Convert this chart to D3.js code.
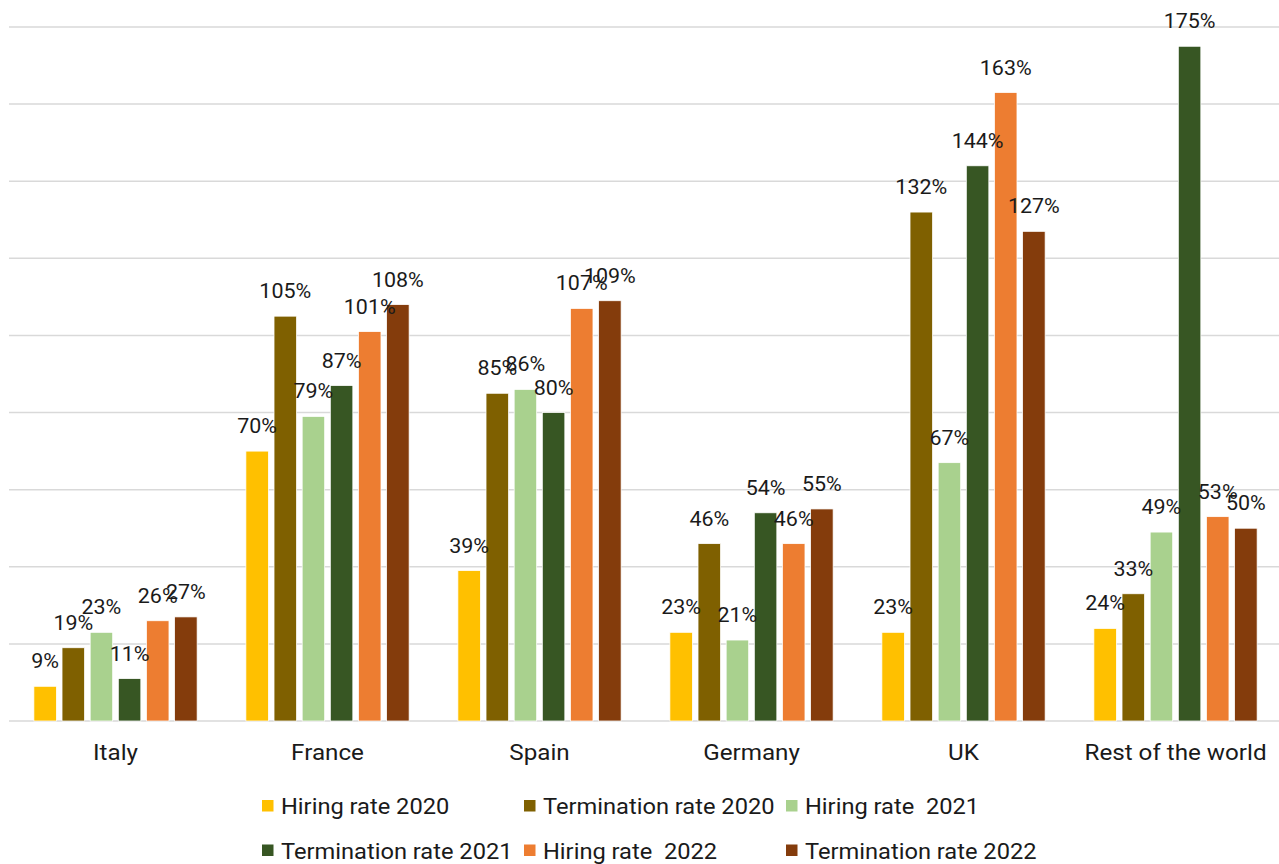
<!DOCTYPE html>
<html>
<head>
<meta charset="utf-8">
<script src="https://cdn.jsdelivr.net/npm/d3@7"></script>
<style>
  html, body { margin: 0; padding: 0; background: #fff; }
  svg { display: block; font-family: Roboto, "Noto Sans", sans-serif; }
</style>
</head>
<body>
<svg id="chart" width="1279" height="864"></svg>
<script>
// Categories and series (rates in %)
const categories = ["Italy", "France", "Spain", "Germany", "UK", "Rest of the world"];
const seriesNames = [
  "Hiring rate 2020", "Termination rate 2020", "Hiring rate  2021",
  "Termination rate 2021", "Hiring rate  2022", "Termination rate 2022"
];
const hiring2020      = [9, 70, 39, 23, 23, 24];
const termination2020 = [19, 105, 85, 46, 132, 33];
const hiring2021      = [23, 79, 86, 21, 67, 49];
const termination2021 = [11, 87, 80, 54, 144, 175];
const hiring2022      = [26, 101, 107, 46, 163, 53];
const termination2022 = [27, 108, 109, 55, 127, 50];
const seriesColors = ["#FFC000", "#7F6000", "#A9D18E", "#375623", "#ED7D31", "#843C0C"];
const yTicks = [0, 20, 40, 60, 80, 100, 120, 140, 160, 180];

const seriesValues = [hiring2020, termination2020, hiring2021, termination2021, hiring2022, termination2022];

const svg = d3.select("#chart");
const W = 1279;

const x0 = d3.scaleBand().domain(categories).range([9.5, 1281.5])
  .paddingInner(0.23).paddingOuter(0.115);
const x1 = d3.scaleBand().domain(seriesNames).range([0, x0.bandwidth()])
  .paddingInner(0.2).paddingOuter(0);
const y = d3.scaleLinear().domain([0, 180]).range([721, 27]);

const stretch = 1.1; // text is drawn slightly wide

// Gridlines
svg.append("g").selectAll("line").data(yTicks).join("line")
  .attr("x1", 9).attr("x2", W)
  .attr("y1", d => y(d)).attr("y2", d => y(d))
  .attr("stroke", "#d9d9d9").attr("stroke-width", 1.5);

// Bars
const groups = svg.append("g").selectAll("g").data(categories).join("g")
  .attr("transform", c => `translate(${x0(c)},0)`);

groups.each(function(c, ci) {
  const g = d3.select(this);
  const rows = seriesNames.map((s, si) => ({ s, si, v: seriesValues[si][ci] }));
  g.selectAll("rect").data(rows).join("rect")
    .attr("x", d => x1(d.s))
    .attr("width", x1.bandwidth())
    .attr("y", d => y(d.v))
    .attr("height", d => y(0) - y(d.v))
    .attr("fill", d => seriesColors[d.si])
    .attr("stroke", "#ffffff").attr("stroke-width", 0.75);

  g.selectAll("g.lbl").data(rows).join("g").attr("class", "lbl")
    .attr("transform", d => `translate(${x1(d.s) + x1.bandwidth() / 2},${y(d.v) - 18}) scale(${stretch},1)`)
    .append("text")
    .attr("text-anchor", "middle")
    .attr("font-size", 19.5)
    .attr("fill", "#1a1a1a")
    .text(d => d.v + "%");
});

// Category axis labels
svg.append("g").selectAll("g").data(categories).join("g")
  .attr("transform", c => `translate(${x0(c) + x0.bandwidth() / 2},760) scale(${stretch},1)`)
  .append("text")
  .attr("text-anchor", "middle")
  .attr("font-size", 22)
  .attr("fill", "#1a1a1a")
  .text(c => c);

// Legend: three columns, two rows
const legend = svg.append("g").selectAll("g").data(seriesNames).join("g")
  .attr("transform", (s, i) => `translate(${262 + (i % 3) * 262},${800 + Math.floor(i / 3) * 44.5})`);
legend.append("rect")
  .attr("x", 0).attr("y", 0).attr("width", 11.5).attr("height", 11.5)
  .attr("fill", (s, i) => seriesColors[i]);
legend.append("g")
  .attr("transform", `translate(19,14) scale(${stretch},1)`)
  .append("text")
  .attr("font-size", 21.5)
  .attr("fill", "#1a1a1a")
  .attr("xml:space", "preserve")
  .style("white-space", "pre")
  .text(s => s);
</script>
</body>
</html>
